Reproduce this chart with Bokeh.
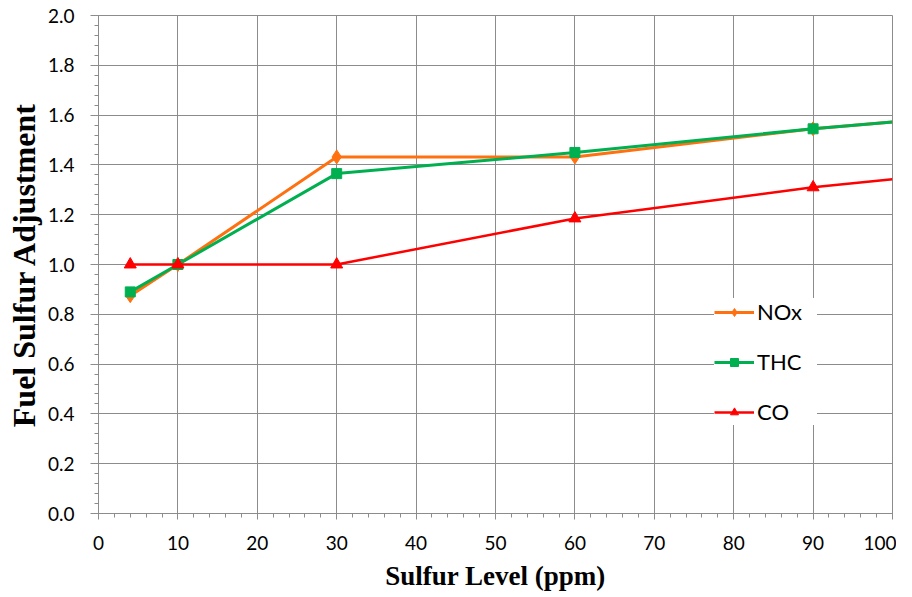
from bokeh.plotting import figure
from bokeh.models import (Range1d, SingleIntervalTicker, Legend, LegendItem,
                          NumeralTickFormatter)
from bokeh.embed import file_html
from bokeh.resources import INLINE

# ---- data ----
sulfur = [4, 10, 30, 60, 90, 100]
nox = [0.875, 1.0, 1.432, 1.432, 1.545, 1.572]
thc = [0.89, 1.0, 1.365, 1.45, 1.545, 1.572]
co = [1.0, 1.0, 1.0, 1.185, 1.31, 1.342]
series_names = ["NOx", "THC", "CO"]

GRAY = "#8c8c8c"
ORANGE = "#FF7010"
GREEN = "#00B050"
RED = "#FF0000"

p = figure(width=896, height=597, output_backend="svg", toolbar_location=None,
           x_range=Range1d(0, 100), y_range=Range1d(0, 2.0),
           min_border_left=98, min_border_right=4, min_border_top=15,
           min_border_bottom=84)
p.outline_line_color = GRAY
p.outline_line_width = 1
p.background_fill_color = "white"
p.border_fill_color = "white"

# axes
p.xaxis.ticker = SingleIntervalTicker(interval=10, num_minor_ticks=5)
p.yaxis.ticker = SingleIntervalTicker(interval=0.2, num_minor_ticks=5)
p.yaxis.formatter = NumeralTickFormatter(format="0.0")

for ax in (p.xaxis[0], p.yaxis[0]):
    ax.axis_line_color = GRAY
    ax.axis_line_width = 1
    ax.major_tick_line_color = GRAY
    ax.minor_tick_line_color = GRAY
    ax.major_tick_in = 0
    ax.minor_tick_in = 0
    ax.major_label_text_font = "Lato"
    ax.major_label_text_font_size = "19px"
    ax.major_label_text_color = "black"
    ax.axis_label_text_font = "Liberation Serif"
    ax.axis_label_text_font_style = "bold"
    ax.axis_label_text_color = "black"

p.xaxis.major_tick_out = 6
p.xaxis.minor_tick_out = 4
p.yaxis.major_tick_out = 8
p.yaxis.minor_tick_out = 4
p.xaxis.major_label_standoff = 16
p.yaxis.major_label_standoff = 16

p.xaxis.axis_label = "Sulfur Level (ppm)"
p.yaxis.axis_label = "Fuel Sulfur Adjustment"
p.xaxis.axis_label_text_font_size = "27px"
p.yaxis.axis_label_text_font_size = "32px"
p.xaxis.axis_label_standoff = 8
p.yaxis.axis_label_standoff = 3

# grid
p.xgrid.grid_line_color = GRAY
p.ygrid.grid_line_color = GRAY
p.xgrid.grid_line_width = 1
p.ygrid.grid_line_width = 1

# series
l_nox = p.line(sulfur, nox, line_color=ORANGE, line_width=3, line_join="round")
m_nox = p.scatter(sulfur[:-1], nox[:-1], marker="diamond", size=14,
                  fill_color=ORANGE, line_color=ORANGE)
l_thc = p.line(sulfur, thc, line_color=GREEN, line_width=3, line_join="round")
m_thc = p.scatter(sulfur[:-1], thc[:-1], marker="square", size=10,
                  fill_color=GREEN, line_color=GREEN)
l_co = p.line(sulfur, co, line_color=RED, line_width=2.5, line_join="round")
m_co = p.scatter(sulfur[:-1], co[:-1], marker="triangle", size=12,
                 fill_color=RED, line_color=RED)

legend = Legend(items=[
    LegendItem(label=series_names[0], renderers=[l_nox, m_nox]),
    LegendItem(label=series_names[1], renderers=[l_thc, m_thc]),
    LegendItem(label=series_names[2], renderers=[l_co, m_co]),
], location=(616, 88))
legend.glyph_width = 40
legend.glyph_height = 20
legend.label_height = 20
legend.label_width = 60
legend.label_standoff = 3
legend.spacing = 23
legend.padding = 14
legend.margin = 0
legend.border_line_color = None
legend.background_fill_color = "white"
legend.background_fill_alpha = 1.0
legend.label_text_font = "Lato"
legend.label_text_font_size = "22px"
legend.label_text_color = "black"
p.add_layout(legend, "center")

open("out.html", "w").write(file_html(p, INLINE))
